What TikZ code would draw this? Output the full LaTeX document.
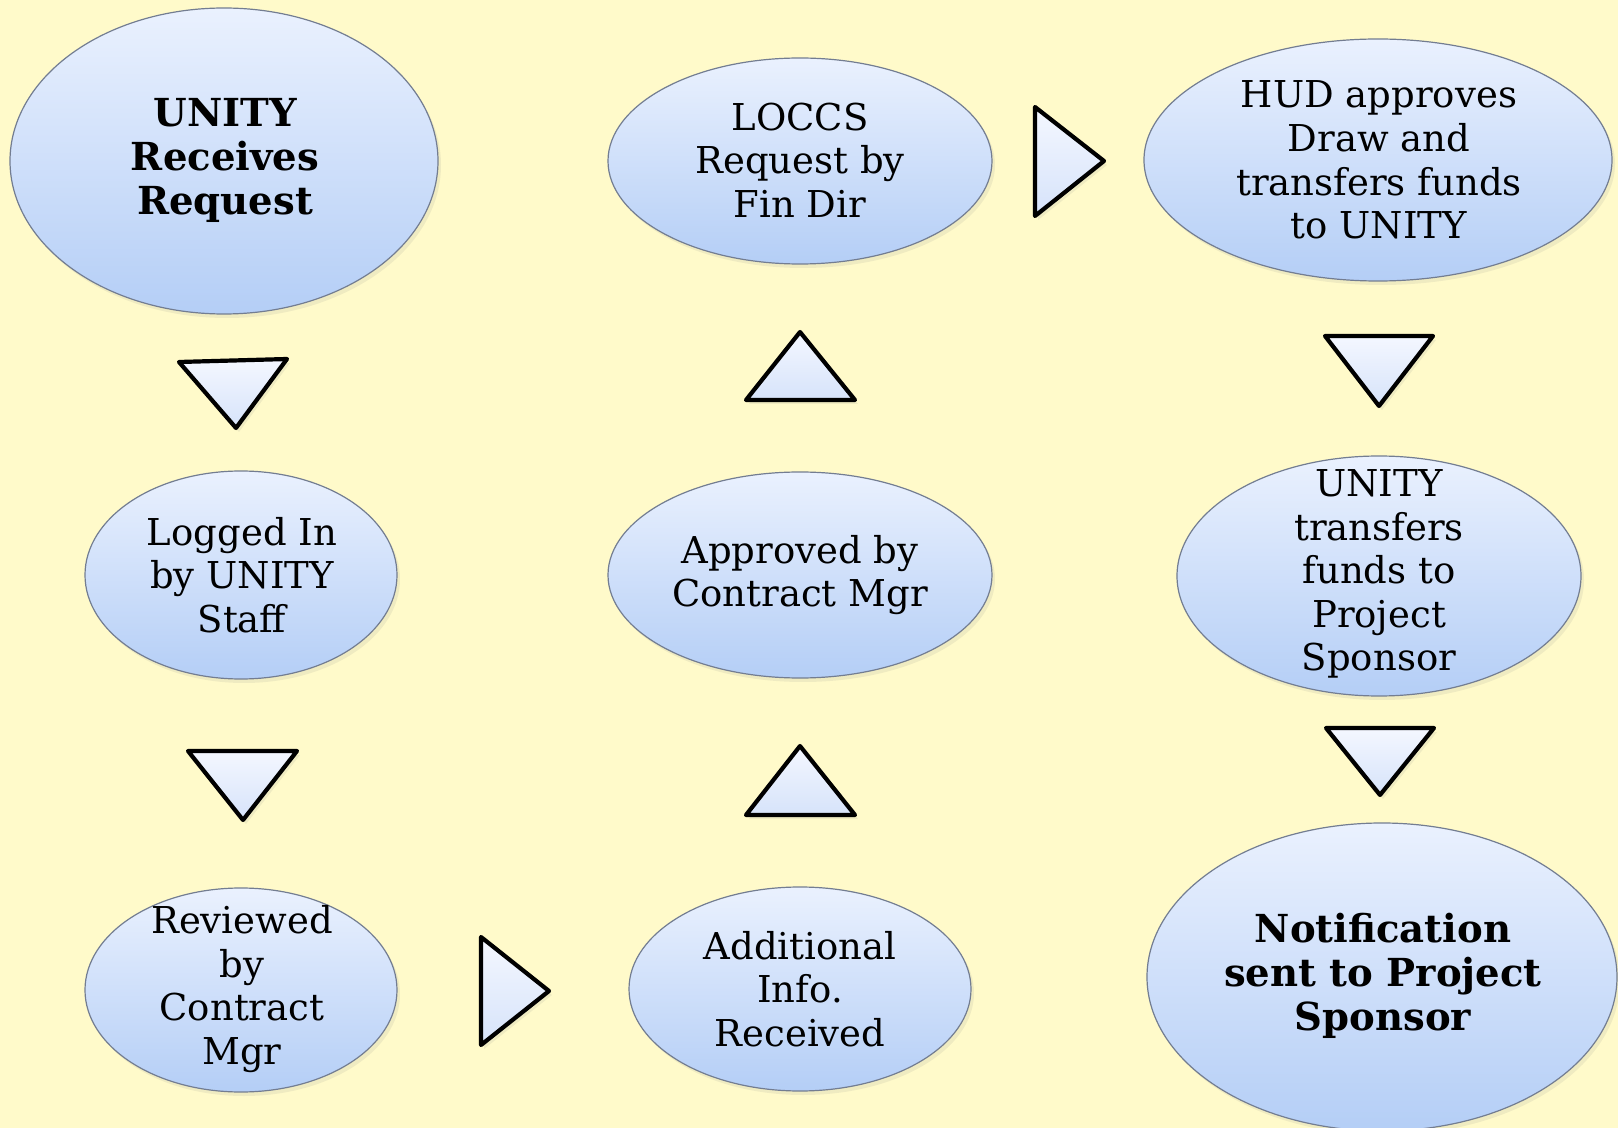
\documentclass[tikz,border=0pt]{standalone}
\usepackage{fontspec}
\setmainfont{DejaVu Serif}
\usetikzlibrary{shapes.geometric,shadows}
\definecolor{bgyellow}{RGB}{255,250,202}
\definecolor{eltop}{RGB}{234,241,254}
\definecolor{elbot}{RGB}{180,206,246}
\definecolor{eledge}{RGB}{115,125,145}
\definecolor{tritop}{RGB}{244,247,255}
\definecolor{tribot}{RGB}{214,227,250}
\tikzset{
  blob/.style={ellipse, draw=eledge, line width=0.6pt, inner sep=0pt,
    top color=eltop, bottom color=elbot,
    drop shadow={opacity=0.12, shadow xshift=1.5pt, shadow yshift=-2pt}},
  blobtext/.style={align=center, inner sep=0pt,
    font=\fontsize{18.5}{21.8}\selectfont},
  boldtext/.style={blobtext, font=\fontsize{19.3}{22}\selectfont\bfseries},
  arrowtri/.style={draw=black, line width=2.1pt, line join=round,
    top color=tritop, bottom color=tribot,
    drop shadow={opacity=0.12, shadow xshift=1.5pt, shadow yshift=-2pt}}
}
\begin{document}
\begin{tikzpicture}[x=0.5pt,y=-0.5pt]
\useasboundingbox (0,0) rectangle (1618,1128);
\fill[bgyellow] (0,0) rectangle (1618,1128);

% ellipses
\node[blob, minimum width=428*0.5pt, minimum height=306*0.5pt] (e1) at (224,161) {};
\node[boldtext] (t1) at (225,160) {UNITY\\Receives\\Request};

\node[blob, minimum width=312*0.5pt, minimum height=208*0.5pt] (e2) at (241,575) {};
\node[blobtext] (t2) at (242,575) {Logged In\\by UNITY\\Staff};

\node[blob, minimum width=312*0.5pt, minimum height=204*0.5pt] (e3) at (241,990) {};
\node[blobtext] (t3) at (242,989) {Reviewed\\by\\Contract\\Mgr};

\node[blob, minimum width=342*0.5pt, minimum height=204*0.5pt] (e4) at (800,989) {};
\node[blobtext] (t4) at (800,989) {Additional\\Info.\\Received};

\node[blob, minimum width=384*0.5pt, minimum height=206*0.5pt] (e5) at (800,575) {};
\node[blobtext] (t5) at (800,575) {Approved by\\Contract Mgr};

\node[blob, minimum width=384*0.5pt, minimum height=206*0.5pt] (e6) at (800,161) {};
\node[blobtext] (t6) at (800,160) {LOCCS\\Request by\\Fin Dir};

\node[blob, minimum width=468*0.5pt, minimum height=242*0.5pt] (e7) at (1378,160) {};
\node[blobtext] (t7) at (1379,160) {HUD approves\\Draw and\\transfers funds\\to UNITY};

\node[blob, minimum width=404*0.5pt, minimum height=240*0.5pt] (e8) at (1379,576) {};
\node[blobtext] (t8) at (1379,574) {UNITY\\transfers\\funds to\\Project\\Sponsor};

\node[blob, minimum width=470*0.5pt, minimum height=308*0.5pt] (e9) at (1382,977) {};
\node[boldtext] (t9) at (1383,976) {Notification\\sent to Project\\Sponsor};

% triangle arrows
\path[arrowtri] (179,362) -- (287,359) -- (236,428) -- cycle;
\path[arrowtri] (188,751) -- (297,751) -- (243,820) -- cycle;
\path[arrowtri] (481,937) -- (549,991) -- (481,1045) -- cycle;
\path[arrowtri] (746,815) -- (800,746) -- (855,815) -- cycle;
\path[arrowtri] (746,400) -- (800,332) -- (855,400) -- cycle;
\path[arrowtri] (1035,107) -- (1104,161) -- (1035,216) -- cycle;
\path[arrowtri] (1325,336) -- (1433,336) -- (1379,406) -- cycle;
\path[arrowtri] (1326,728) -- (1434,728) -- (1380,795) -- cycle;
\end{tikzpicture}
\end{document}
